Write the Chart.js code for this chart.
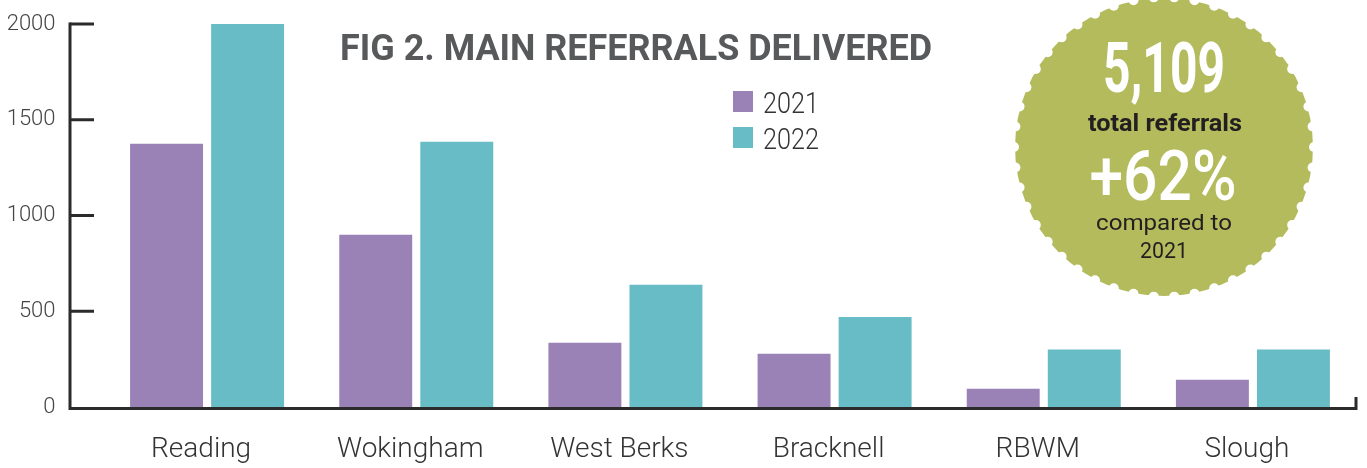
<!DOCTYPE html>
<html>
<head>
<meta charset="utf-8">
<script src="https://cdn.jsdelivr.net/npm/chart.js@4/dist/chart.umd.min.js"></script>
<style>
  html, body { margin: 0; padding: 0; background: #fff; }
  #wrap { width: 1367px; height: 468px; position: relative; }
</style>
</head>
<body>
<div id="wrap"><canvas id="referralsChart"></canvas></div>
<script>
// data
const areas = ['Reading', 'Wokingham', 'West Berks', 'Bracknell', 'RBWM', 'Slough'];
const referrals2021 = [1375, 900, 335, 278, 95, 142];
const referrals2022 = [2005, 1385, 638, 470, 300, 300];
const yTicks = [0, 500, 1000, 1500, 2000];

const titleText = 'FIG 2. MAIN REFERRALS DELIVERED';
const badgeTotal = '5,109';
const badgeChange = '+62%';

const purple = '#9a82b7';
const teal = '#68bcc6';
const axisColor = '#2b2b2b';

// squeeze text horizontally into a given width (the source uses a condensed face)
function fitText(ctx, text, cx, baseline, font, width, color) {
    ctx.save();
    ctx.font = font;
    ctx.fillStyle = color;
    ctx.textAlign = 'center';
    ctx.textBaseline = 'alphabetic';
    const w = ctx.measureText(text).width;
    ctx.translate(cx, baseline);
    ctx.scale(width / w, 1);
    ctx.fillText(text, 0, 0);
    ctx.restore();
}

const decorations = {
    id: 'decorations',
    afterDatasetsDraw(chart) {
        const ctx = chart.ctx;
        const y = chart.scales.y;

        // axes
        ctx.save();
        ctx.strokeStyle = axisColor;
        ctx.lineWidth = 3;
        ctx.lineCap = 'butt';
        const yZero = y.getPixelForValue(0);
        const yTop = y.getPixelForValue(2000);
        ctx.beginPath();
        ctx.moveTo(70, yTop - 1.5);
        ctx.lineTo(70, yZero + 1.5);
        ctx.lineTo(1356, yZero + 1.5);
        ctx.lineTo(1356, yZero - 10);
        ctx.stroke();
        yTicks.forEach(v => {
            if (v === 0) return;
            const py = y.getPixelForValue(v);
            ctx.beginPath();
            ctx.moveTo(70, py);
            ctx.lineTo(94, py);
            ctx.stroke();
        });
        ctx.restore();

        // title
        fitText(ctx, titleText, 636, 60, 'bold 37px Roboto', 592, '#58595b');

        // legend
        chart.data.datasets.forEach((ds, i) => {
            const top = 91 + i * 36;
            ctx.fillStyle = ds.backgroundColor;
            ctx.fillRect(733, top, 20, 21);
            ctx.save();
            ctx.font = '300 30px Roboto';
            ctx.fillStyle = '#333';
            ctx.textAlign = 'left';
            ctx.textBaseline = 'alphabetic';
            const w = ctx.measureText(ds.label).width;
            ctx.translate(763, top + 22);
            ctx.scale(56 / w, 1);
            ctx.fillText(ds.label, 0, 0);
            ctx.restore();
        });

        // badge
        const cx = 1164, cy = 147, r = 149;
        ctx.save();
        ctx.fillStyle = '#b3bb5c';
        ctx.beginPath();
        ctx.arc(cx, cy, r, 0, Math.PI * 2);
        ctx.fill();
        ctx.fillStyle = '#fff';
        const notches = 46;
        for (let i = 0; i < notches; i++) {
            const a = (i / notches) * Math.PI * 2;
            ctx.beginPath();
            ctx.arc(cx + Math.cos(a) * (r + 1), cy + Math.sin(a) * (r + 1), 5, 0, Math.PI * 2);
            ctx.fill();
        }
        ctx.restore();

        fitText(ctx, badgeTotal, 1164, 92, 'bold 70px Roboto', 122, '#fff');
        fitText(ctx, 'total referrals', 1165, 131, 'bold 23px Roboto', 154, '#231f20');
        fitText(ctx, badgeChange, 1163, 200, '500 70px Roboto', 147, '#fff');
        fitText(ctx, 'compared to', 1164, 230, '400 22px Roboto', 136, '#231f20');
        fitText(ctx, '2021', 1164, 258, '400 22px Roboto', 48, '#231f20');
    }
};

const ctx = document.getElementById('referralsChart').getContext('2d');

new Chart(ctx, {
    type: 'bar',
    data: {
        labels: areas,
        datasets: [
            { label: '2021', data: referrals2021, backgroundColor: purple },
            { label: '2022', data: referrals2022, backgroundColor: teal }
        ]
    },
    options: {
        responsive: true,
        maintainAspectRatio: false,
        animation: false,
        layout: { padding: { top: 24, right: 9.5, left: 0, bottom: 0 } },
        datasets: {
            bar: { categoryPercentage: 0.775, barPercentage: 0.9 }
        },
        plugins: {
            legend: { display: false },
            tooltip: { enabled: false }
        },
        scales: {
            x: {
                grid: { display: false, drawTicks: false },
                border: { display: false },
                ticks: {
                    padding: 26,
                    labelOffset: -6,
                    color: '#333',
                    font: { family: 'Roboto', size: 28, weight: '300' }
                },
                afterFit(scale) {
                    scale.height = 61;
                    scale.paddingLeft = 0;
                    scale.paddingRight = 0;
                }
            },
            y: {
                min: 0,
                max: 2000,
                afterBuildTicks(scale) { scale.ticks = yTicks.map(v => ({ value: v })); },
                grid: { display: false, drawTicks: false },
                border: { display: false },
                ticks: {
                    padding: 47,
                    color: '#444',
                    font: { family: 'Roboto', size: 22, weight: '300' },
                    callback: value => String(value)
                },
                afterFit(scale) {
                    scale.width = 102.5;
                    scale.paddingTop = 0;
                    scale.paddingBottom = 0;
                }
            }
        }
    },
    plugins: [decorations]
});
</script>
</body>
</html>
